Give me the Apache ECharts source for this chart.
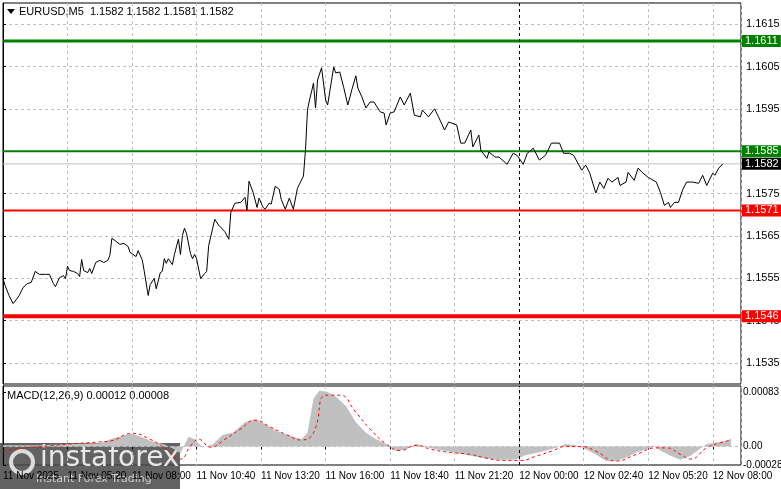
<!DOCTYPE html>
<html>
<head>
<meta charset="utf-8">
<script src="https://cdn.jsdelivr.net/npm/echarts@6/dist/echarts.min.js"></script>
<style>html,body{margin:0;padding:0;background:#fff}#chart{width:781px;height:489px}</style>
</head>
<body>
<div id="chart"></div>
<script>
// EURUSD M5 close prices, bar index -> price
var priceIdx = [0,1,3,5,7,8,10,12,14,16,18,21,23,25,26,28,30,31,32,33,35,37,38,39,40,42,43,44,46,48,50,52,53,54,56,58,60,62,63,66,67,69,70,72,73,75,76,78,79,80,81,82,84,85,87,88,89,90,91,93,94,95,96,98,100,101,102,104,105,107,110,112,113,115,118,120,121,122,124,126,127,129,130,132,133,135,137,138,140,142,144,146,147,149,150,151,152,153,154,155,156,158,160,161,164,165,167,169,171,173,175,176,178,180,182,184,187,189,190,192,194,197,199,202,204,207,208,211,214,216,219,221,225,227,229,232,233,236,237,240,241,244,246,250,253,255,258,260,263,266,269,272,276,278,281,283,287,289,291,294,296,298,300,302,305,306,309,310,313,315,317,320,324,326,328,330,331,333,335,337,339,342,345,347,349,352,353,355,357];
var priceVal = [1.15549,1.15533,1.15509,1.15490,1.15502,1.15509,1.15528,1.15537,1.15540,1.15566,1.15559,1.15559,1.15559,1.15537,1.15530,1.15551,1.15556,1.15549,1.15578,1.15568,1.15566,1.15561,1.15554,1.15594,1.15568,1.15563,1.15573,1.15561,1.15587,1.15592,1.15587,1.15592,1.15604,1.15644,1.15637,1.15630,1.15632,1.15625,1.15611,1.15601,1.15615,1.15594,1.15568,1.15509,1.15535,1.15549,1.15525,1.15563,1.15566,1.15596,1.15585,1.15596,1.15582,1.15606,1.15642,1.15606,1.15651,1.15668,1.15656,1.15608,1.15596,1.15606,1.15596,1.15549,1.15561,1.15566,1.15627,1.15668,1.15689,1.15675,1.15660,1.15642,1.15706,1.15727,1.15729,1.15741,1.15710,1.15779,1.15753,1.15717,1.15739,1.15717,1.15713,1.15727,1.15725,1.15767,1.15760,1.15736,1.15713,1.15739,1.15713,1.15762,1.15772,1.15791,1.15852,1.15947,1.15971,1.15990,1.16011,1.15952,1.16018,1.16047,1.15971,1.15959,1.16049,1.16035,1.16037,1.16000,1.15959,1.15995,1.16028,1.15999,1.15978,1.15952,1.15966,1.15966,1.15943,1.15940,1.15912,1.15940,1.15943,1.15978,1.15959,1.15987,1.15935,1.15931,1.15947,1.15931,1.15950,1.15931,1.15900,1.15919,1.15912,1.15869,1.15869,1.15900,1.15860,1.15888,1.15852,1.15833,1.15848,1.15836,1.15836,1.15819,1.15845,1.15840,1.15819,1.15845,1.15857,1.15829,1.15840,1.15869,1.15869,1.15845,1.15845,1.15840,1.15805,1.15817,1.15798,1.15751,1.15777,1.15762,1.15786,1.15777,1.15788,1.15769,1.15777,1.15800,1.15781,1.15810,1.15800,1.15788,1.15777,1.15753,1.15722,1.15729,1.15717,1.15729,1.15729,1.15758,1.15777,1.15777,1.15774,1.15793,1.15769,1.15798,1.15793,1.15810,1.15820];

// MACD(12,26,9) main histogram
var macdIdx = [0,18,33,48,54,61,64,69,73,80,85,88,92,95,99,104,109,114,120,125,130,136,143,148,151,154,157,161,165,170,175,180,185,190,195,200,205,210,215,222,229,237,244,252,255,259,267,274,279,284,289,294,299,304,309,314,319,323,326,331,336,341,345,349,354,359,361];
var macdVal = [0.00002,0.00002,0.00004,0.00005,0.00012,0.00018,0.00020,0.00014,0.00009,0.00003,-0.00004,-0.00010,0.00015,0.00011,-0.00001,0.00003,0.00018,0.00021,0.00037,0.00041,0.00034,0.00023,0.00016,0.00011,0.00021,0.00073,0.00085,0.00083,0.00076,0.00062,0.00037,0.00021,0.00011,0.00004,-0.00007,-0.00004,0.00004,-0.00001,-0.00004,-0.00008,-0.00012,-0.00017,-0.00020,-0.00020,-0.00019,-0.00013,-0.00008,-0.00002,0.00004,0.00002,-0.00004,-0.00012,-0.00022,-0.00022,-0.00017,-0.00009,-0.00004,0.00000,-0.00006,-0.00014,-0.00020,-0.00014,-0.00005,0.00004,0.00006,0.00009,0.00012];

// MACD signal line
var signalIdx = [0,11,23,33,48,54,64,73,80,88,93,97,103,110,118,125,133,140,148,154,160,167,175,182,190,197,205,212,222,232,239,247,257,264,272,279,287,294,304,314,324,329,336,341,349,356,360];
var signalVal = [-0.00007,-0.00002,0.00001,0.00004,0.00007,0.00009,0.00020,0.00011,-0.00002,-0.00019,0.00001,0.00011,-0.00001,0.00011,0.00027,0.00040,0.00029,0.00019,0.00010,0.00021,0.00078,0.00078,0.00052,0.00027,0.00004,-0.00006,0.00002,-0.00004,-0.00009,-0.00012,-0.00017,-0.00021,-0.00021,-0.00015,-0.00007,0.00000,0.00000,-0.00007,-0.00022,-0.00012,-0.00002,-0.00002,-0.00012,-0.00019,-0.00002,0.00006,0.00009];

var timeLabels = ['11 Nov 2025','11 Nov 05:20','11 Nov 08:00','11 Nov 10:40','11 Nov 13:20','11 Nov 16:00','11 Nov 18:40','11 Nov 21:20','12 Nov 00:00','12 Nov 02:40','12 Nov 05:20','12 Nov 08:00'];
var priceTicks = [1.1535,1.1545,1.1555,1.1565,1.1575,1.1585,1.1595,1.1605,1.1615];
var macdTicks = [-0.00028,0,0.00083];
var levelVals = [1.1582, 1.1611, 1.1585, 1.1571, 1.1546];
var levelColors = ['#c0c0c0', '#008000', '#008000', '#ff0000', '#ff0000'];
var levelWidths = [1, 3, 2, 2, 4];
var labelColors = ['#000', '#008000', '#008000', '#ff0000', '#ff0000'];

function pairs(a, b) { return a.map(function (x, i) { return [x, b[i]]; }); }

var font = 'Liberation Sans';
var dash = {color:'#c0c0c0', type:[3,3], width:1};
var X_MAX = 366;

var myChart = echarts.init(document.getElementById('chart'));

var levelSeries = levelVals.map(function (v, i) {
  return {type:'line', xAxisIndex:0, yAxisIndex:0, data:[[0, v], [X_MAX, v]], symbol:'none', silent:true,
    lineStyle:{color:levelColors[i], width:levelWidths[i]}, z:3 + i,
    endLabel:{show:true, distance:1, formatter:v.toFixed(4), backgroundColor:labelColors[i], color:'#fff',
      fontSize:11, fontFamily:font, padding:[1,3,0,3]}};
});

var option = {
  animation: false,
  textStyle: {fontFamily: font},
  grid: [
    {left:3, right:40, top:3, height:381, show:true, borderColor:'#000', borderWidth:1, outerBoundsMode:'none'},
    {left:3, right:40, top:386, height:79, show:true, borderColor:'#000', borderWidth:1, outerBoundsMode:'none'}
  ],
  xAxis: [
    {gridIndex:0, type:'value', min:0, max:X_MAX, interval:32, axisLine:{show:false}, axisTick:{show:false},
      axisLabel:{show:false}, splitLine:{show:true, lineStyle:dash}},
    {gridIndex:1, type:'value', min:0, max:X_MAX, interval:32, axisLine:{show:false}, axisTick:{show:true, lineStyle:{color:'#000'}, length:3},
      splitLine:{show:true, lineStyle:dash},
      axisLabel:{color:'#000', fontSize:10, align:'left', margin:6, showMaxLabel:false, hideOverlap:false,
        formatter:function (v) { return timeLabels[Math.round(v / 32)] || ''; }}}
  ],
  yAxis: [
    {gridIndex:0, type:'value', position:'right', min:1.1530, max:1.1620,
      axisLine:{show:true, lineStyle:{color:'#000'}}, axisTick:{show:true, length:3, customValues:priceTicks},
      axisLabel:{color:'#000', fontSize:11, margin:5, customValues:priceTicks, formatter:function (v) { return v.toFixed(4); }},
      splitLine:{show:true, lineStyle:dash}},
    {gridIndex:1, type:'value', position:'right', min:-0.00028, max:0.00092,
      axisLine:{show:true, lineStyle:{color:'#000'}}, axisTick:{show:true, length:3, customValues:macdTicks},
      axisLabel:{color:'#000', fontSize:10, margin:2, customValues:macdTicks,
        formatter:function (v) { return Math.abs(v) < 1e-9 ? '0.00' : v.toFixed(5); }},
      splitLine:{show:false}}
  ],
  series: levelSeries.concat([
    {type:'line', xAxisIndex:0, yAxisIndex:0, data:pairs(priceIdx, priceVal), symbol:'none',
      lineStyle:{color:'#000', width:1}, z:10,
      markLine:{symbol:'none', silent:true, label:{show:false},
        data:[{xAxis:256, lineStyle:{color:'#000', type:[3,3], width:1}}]}},
    {type:'line', xAxisIndex:1, yAxisIndex:1, data:pairs(macdIdx, macdVal), symbol:'none',
      lineStyle:{width:0}, areaStyle:{color:'#c0c0c0', opacity:1, origin:0},
      markLine:{symbol:'none', silent:true, label:{show:false},
        data:[{yAxis:0, lineStyle:{color:'#c0c0c0', type:[3,3], width:1}},
              {xAxis:256, lineStyle:{color:'#000', type:[3,3], width:1}}]}},
    {type:'line', xAxisIndex:1, yAxisIndex:1, data:pairs(signalIdx, signalVal), symbol:'none', smooth:true,
      lineStyle:{color:'#ff0000', width:1, type:[3,3]}, z:6}
  ]),
  graphic: [
    {type:'polygon', shape:{points:[[7,9],[15,9],[11,14]]}, style:{fill:'#000'}},
    {type:'text', left:19, top:6, style:{text:'EURUSD,M5  1.1582 1.1582 1.1581 1.1582', fill:'#000', font:'11px Liberation Sans'}},
    {type:'text', left:7, top:390, style:{text:'MACD(12,26,9) 0.00012 0.00008', fill:'#000', font:'11px Liberation Sans'}},
    {type:'rect', shape:{x:0, y:443, width:180, height:46}, style:{fill:'rgba(70,70,70,0.85)'}},
    {type:'circle', shape:{cx:22, cy:462, r:11}, style:{fill:'none', stroke:'#ddd', lineWidth:4}},
    {type:'text', left:40, top:445, style:{text:'instaforex', fill:'#e8e8e8', font:'28px DejaVu Sans'}},
    {type:'text', left:36, top:474, style:{text:'Instant Forex Trading', fill:'#cfcfcf', font:'11px DejaVu Sans'}}
  ]
};
myChart.setOption(option);
</script>
</body>
</html>
